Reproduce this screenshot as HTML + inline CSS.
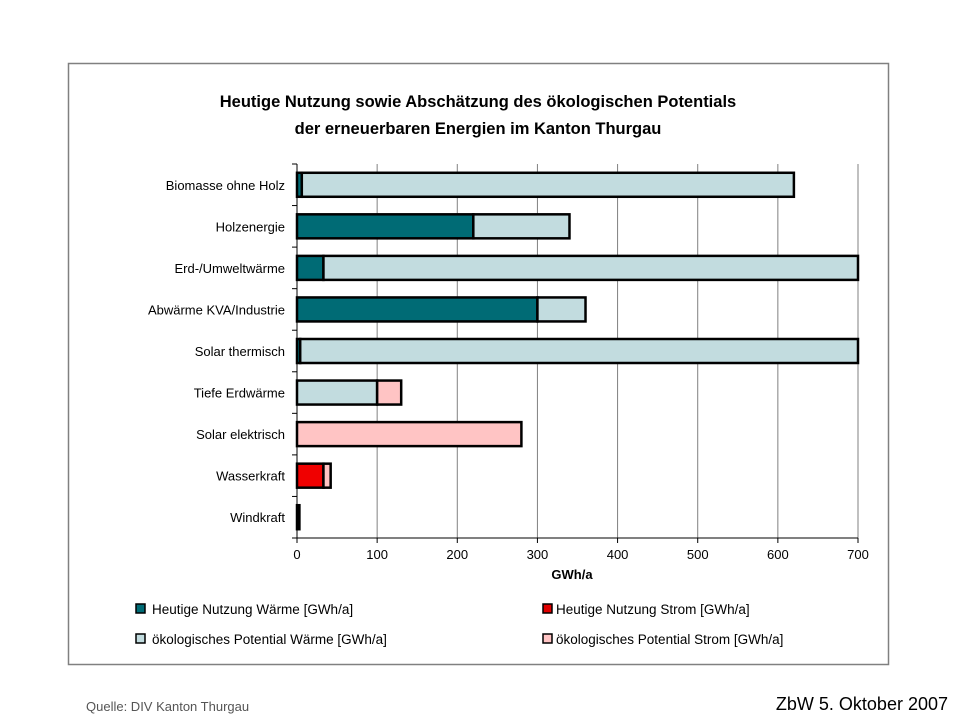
<!DOCTYPE html>
<html><head><meta charset="utf-8"><style>
body{margin:0;background:#fff;width:960px;height:720px;overflow:hidden;font-family:"Liberation Sans",Arial,sans-serif}
</style></head><body>
<svg width="960" height="720" xmlns="http://www.w3.org/2000/svg" font-family="Liberation Sans, Arial, sans-serif">
<rect x="68.5" y="63.5" width="820" height="601" fill="#fff" stroke="#808080" stroke-width="1.5"/>
<text x="478" y="107" text-anchor="middle" font-size="16.5" font-weight="bold">Heutige Nutzung sowie Abschätzung des ökologischen Potentials</text>
<text x="478" y="134" text-anchor="middle" font-size="16.5" font-weight="bold">der erneuerbaren Energien im Kanton Thurgau</text>
<g id="grid"></g><g id="bars"></g><g id="axes"></g>
<text x="572" y="579" text-anchor="middle" font-size="13" font-weight="bold">GWh/a</text>
<g font-size="13.5">
<rect x="136" y="604" width="9" height="9" fill="#006b75" stroke="#000" stroke-width="1.5"/>
<text x="152" y="614">Heutige Nutzung Wärme [GWh/a]</text>
<rect x="543" y="604" width="9" height="9" fill="#e00000" stroke="#000" stroke-width="1.5"/>
<text x="556" y="614">Heutige Nutzung Strom [GWh/a]</text>
<rect x="136" y="634" width="9" height="9" fill="#c2dcdf" stroke="#000" stroke-width="1.5"/>
<text x="152" y="644">ökologisches Potential Wärme [GWh/a]</text>
<rect x="543" y="634" width="9" height="9" fill="#ffc4c4" stroke="#000" stroke-width="1.5"/>
<text x="556" y="644">ökologisches Potential Strom [GWh/a]</text>
</g>
<text x="86" y="711" font-size="13" fill="#555">Quelle: DIV Kanton Thurgau</text>
<text x="948" y="710" text-anchor="end" font-size="18">ZbW   5. Oktober 2007</text>
</svg>
<script>
const categories=["Biomasse ohne Holz","Holzenergie","Erd-/Umweltwärme","Abwärme KVA/Industrie","Solar thermisch","Tiefe Erdwärme","Solar elektrisch","Wasserkraft","Windkraft"];
const heatUse=[6,220,33,300,4,0,0,0,0];
const powerUse=[0,0,0,0,0,0,0,33,3];
const heatPot=[614,120,667,60,696,100,0,0,0];
const powerPot=[0,0,0,0,0,30,280,9,0];
const xTicks=[0,100,200,300,400,500,600,700];
const NS="http://www.w3.org/2000/svg";
const x0=297,x1=858,yTop=164,yBot=538,xMax=700;
const xs=v=>x0+v/xMax*(x1-x0);
const band=(yBot-yTop)/categories.length;
const yc=i=>yTop+band*(i+0.5);
function mk(t,a,p){const e=document.createElementNS(NS,t);for(const k in a)e.setAttribute(k,a[k]);p.appendChild(e);return e;}
const grid=document.getElementById('grid'),bars=document.getElementById('bars'),axes=document.getElementById('axes');
xTicks.forEach(v=>{
 const g=mk('line',{x1:xs(v),x2:xs(v),y1:yTop,y2:yBot,stroke:'#808080','stroke-width':1},grid);
 
 
 const t=mk('line',{x1:xs(v),x2:xs(v),y1:yBot,y2:yBot+5,stroke:'#000'},axes);
 
 
 const l=mk('text',{x:xs(v),y:yBot+21,'text-anchor':'middle','font-size':13},axes);
 l.textContent=v;
 
 
});
const series=[[heatUse,'#006b75','heat-use'],[powerUse,'#f00000','power-use'],[heatPot,'#c2dcdf','heat-potential'],[powerPot,'#ffc4c4','power-potential']];
const bh=24;
categories.forEach((c,i)=>{
 let acc=0;
 series.forEach(([arr,col,nm])=>{
  const v=arr[i]; if(v<=0)return;
  const r=mk('rect',{x:xs(acc),y:yc(i)-bh/2,width:xs(acc+v)-xs(acc),height:bh,fill:col,stroke:'#000','stroke-width':2.5},bars);
  
  
  acc+=v;
 });
 const l=mk('text',{x:285,y:yc(i)+5,'text-anchor':'end','font-size':13},axes);
 l.textContent=c;
 
 
});
for(let i=0;i<=categories.length;i++){
 const t=mk('line',{x1:x0-5,x2:x0,y1:yTop+band*i,y2:yTop+band*i,stroke:'#000'},axes);
 
 
}
const ya=mk('line',{x1:x0,x2:x0,y1:yTop,y2:yBot,stroke:'#000','stroke-width':1},axes);


const xa=mk('line',{x1:x0,x2:x1,y1:yBot,y2:yBot,stroke:'#000','stroke-width':1},axes);


</script>
</body></html>
